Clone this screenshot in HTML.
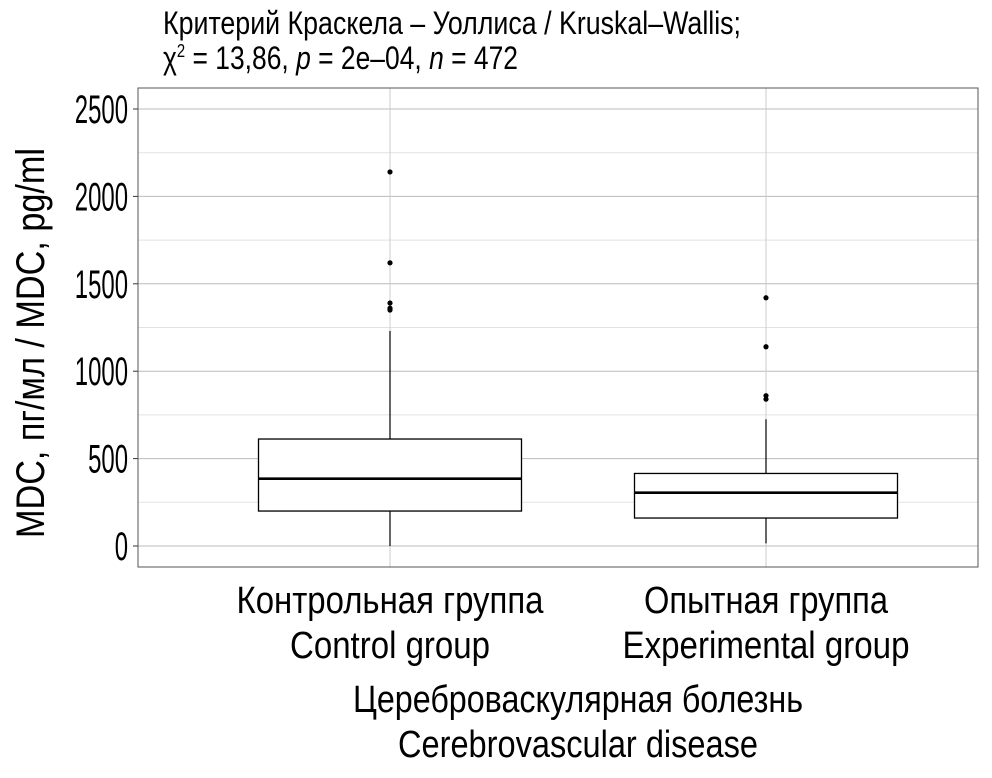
<!DOCTYPE html>
<html><head><meta charset="utf-8"><style>
body{margin:0;background:#fff;}
svg text{font-family:"Liberation Sans Narrow","Liberation Sans",sans-serif;fill:#000;}
</style></head><body>
<svg width="992" height="773" xmlns="http://www.w3.org/2000/svg">
<g id="title">
<text x="163" y="34" font-size="32" textLength="578" lengthAdjust="spacingAndGlyphs">Критерий Краскела – Уоллиса / Kruskal–Wallis;</text>
<text x="163" y="69" font-size="32" textLength="355" lengthAdjust="spacingAndGlyphs">χ<tspan dy="-12" font-size="18">2</tspan><tspan dy="12"> = 13,86, </tspan><tspan font-style="italic">p</tspan> = 2e–04, <tspan font-style="italic">n</tspan> = 472</text>
</g>
<g id="grid"></g>
<g id="yaxis"></g>
<g id="marks"></g>
<rect x="138" y="88" width="840" height="479" fill="none" stroke="#555" stroke-width="1"/>
<text transform="translate(44,343) rotate(-90)" text-anchor="middle" font-size="40" textLength="390" lengthAdjust="spacingAndGlyphs">MDC, пг/мл / MDC, pg/ml</text>
<g id="xlabels"></g>
<text x="578" y="712" text-anchor="middle" font-size="38" textLength="450" lengthAdjust="spacingAndGlyphs">Цереброваскулярная болезнь</text>
<text x="578" y="757" text-anchor="middle" font-size="38" textLength="360" lengthAdjust="spacingAndGlyphs">Cerebrovascular disease</text>
</svg>
<script>
const categories=["Контрольная группа|Control group","Опытная группа|Experimental group"];
const whiskerLow=[0,15];
const q1=[200,160];
const median=[385,305];
const q3=[612,415];
const whiskerHigh=[1230,725];
const outliers=[[2140,1620,1390,1360,1350],[1420,1140,860,840]];
const yTicks=[0,500,1000,1500,2000,2500];
const labelLens=[[307,200],[244,287]];
const NS="http://www.w3.org/2000/svg";
const y=v=>546-v*(437/2500);
const x=i=>390+i*376;
const halfW=131.5;
function mk(t,a,p){const e=document.createElementNS(NS,t);for(const k in a)e.setAttribute(k,a[k]);document.getElementById(p).appendChild(e);return e;}
for(let v=-250;v<=2750;v+=250){const yy=y(v);if(yy<88||yy>567)continue;
 const l=mk('line',{x1:138,x2:978,y1:yy,y2:yy,stroke:v%500===0?'#bbb':'#e2e2e2','stroke-width':1},'grid');
 
 }
categories.forEach((c,i)=>{const l=mk('line',{x1:x(i),x2:x(i),y1:88,y2:567,stroke:'#ccc','stroke-width':1},'grid');
 
 });
yTicks.forEach(v=>{const t=mk('line',{x1:133,x2:138,y1:y(v),y2:y(v),stroke:'#333'},'yaxis');
 
 
 const s=String(v);
 const tx=mk('text',{x:128,y:y(v)+14,'text-anchor':'end','font-size':40,textLength:s.length*13.3,lengthAdjust:'spacingAndGlyphs'},'yaxis');tx.textContent=s;
 
 });
categories.forEach((c,i)=>{const cx=x(i);
 const w=mk('line',{x1:cx,x2:cx,y1:y(whiskerLow[i]),y2:y(whiskerHigh[i]),stroke:'#000','stroke-width':1.2},'marks');
 
 
 const b=mk('rect',{x:cx-halfW,y:y(q3[i]),width:halfW*2,height:y(q1[i])-y(q3[i]),fill:'#fff',stroke:'#000','stroke-width':1.3},'marks');
 
 
 const m=mk('line',{x1:cx-halfW,x2:cx+halfW,y1:y(median[i]),y2:y(median[i]),stroke:'#000','stroke-width':2.6},'marks');
 
 
 outliers[i].forEach(v=>{const o=mk('circle',{cx:cx,cy:y(v),r:2.6,fill:'#000'},'marks');
  
  });
 const p=c.split('|');
 const t1=mk('text',{x:cx,y:613,'text-anchor':'middle','font-size':38,textLength:labelLens[i][0],lengthAdjust:'spacingAndGlyphs'},'xlabels');t1.textContent=p[0];
 
 
 const t2=mk('text',{x:cx,y:658,'text-anchor':'middle','font-size':38,textLength:labelLens[i][1],lengthAdjust:'spacingAndGlyphs'},'xlabels');t2.textContent=p[1];
 
 
});
</script>
</body></html>
